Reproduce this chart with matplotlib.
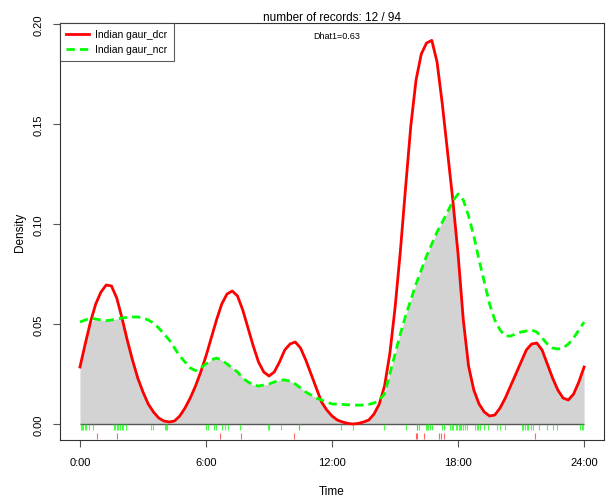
import numpy as np
import matplotlib
matplotlib.use("Agg")
import matplotlib.pyplot as plt

plt.rcParams['font.family'] = ['Liberation Sans', 'DejaVu Sans']

# time grid (hours), one reading every quarter hour
hours = np.arange(0, 24.01, 0.25)

# densities
dens_dcr = [0.0285, 0.040, 0.051, 0.060, 0.066, 0.0695, 0.069, 0.063,
            0.053, 0.042, 0.032, 0.023, 0.016, 0.010, 0.006, 0.003,
            0.0015, 0.001, 0.0015, 0.004, 0.008, 0.013, 0.019, 0.026,
            0.034, 0.043, 0.052, 0.060, 0.065, 0.0665, 0.064, 0.057,
            0.048, 0.039, 0.031, 0.026, 0.024, 0.026, 0.031, 0.037,
            0.040, 0.041, 0.038, 0.032, 0.025, 0.018, 0.011, 0.007,
            0.004, 0.002, 0.001, 0.0003, 0.000, 0.0003, 0.001, 0.002,
            0.005, 0.010, 0.019, 0.035, 0.058, 0.086, 0.118, 0.149,
            0.172, 0.185, 0.1905, 0.1918, 0.181, 0.160, 0.136, 0.112,
            0.085, 0.052, 0.029, 0.017, 0.010, 0.006, 0.004, 0.0045,
            0.008, 0.013, 0.019, 0.025, 0.031, 0.037, 0.040, 0.0405,
            0.037, 0.030, 0.023, 0.017, 0.013, 0.012, 0.015, 0.021,
            0.0285]

dens_ncr = [0.051, 0.052, 0.053, 0.0525, 0.052, 0.0517, 0.052, 0.0525,
            0.053, 0.0533, 0.0535, 0.0535, 0.053, 0.052, 0.0505, 0.048,
            0.045, 0.042, 0.038, 0.034, 0.031, 0.028, 0.0267, 0.028,
            0.030, 0.032, 0.033, 0.032, 0.030, 0.028, 0.026, 0.023,
            0.021, 0.0195, 0.019, 0.0195, 0.020, 0.021, 0.022, 0.022,
            0.0215, 0.020, 0.018, 0.016, 0.0145, 0.013, 0.012, 0.011,
            0.010, 0.010, 0.0098, 0.0096, 0.0095, 0.0094, 0.0095, 0.0098,
            0.0105, 0.012, 0.015, 0.025, 0.035, 0.045, 0.054, 0.062,
            0.070, 0.077, 0.084, 0.090, 0.096, 0.101, 0.106, 0.1115,
            0.115, 0.112, 0.104, 0.094, 0.082, 0.071, 0.060, 0.052,
            0.047, 0.044, 0.044, 0.045, 0.046, 0.0465, 0.047, 0.046,
            0.043, 0.040, 0.038, 0.0375, 0.038, 0.040, 0.043, 0.047,
            0.051]

# record times for the rugs
times_dcr = [0.81, 1.76, 6.67, 7.67, 10.2, 16.0, 16.05, 16.4, 17.1, 17.17, 17.35, 21.67]
times_ncr = [0.03, 0.1, 0.16, 0.22, 0.29, 0.44, 0.63, 1.62, 1.68, 1.75, 1.83, 1.9,
             1.98, 2.06, 2.19, 3.37, 3.46, 4.05, 4.1, 4.16, 6.0, 6.11, 6.38, 6.48,
             6.75, 6.9, 7.06, 7.62, 8.97, 8.98, 9.57, 10.41, 10.42, 12.44, 12.98,
             14.48, 15.5, 16.03, 16.06, 16.16, 16.46, 16.51, 16.59, 16.67, 16.76,
             17.22, 17.35, 17.62, 17.7, 17.78, 17.9, 17.97, 18.03, 18.1, 18.16,
             18.22, 18.33, 18.44, 18.81, 18.89, 18.97, 19.05, 19.24, 19.44, 19.87,
             20.0, 20.24, 21.03, 21.11, 21.19, 21.27, 21.35, 21.46, 21.59, 21.85,
             22.22, 22.5, 22.72, 23.81, 23.89, 23.97]

tick_pos = [0, 6, 12, 18, 24]
tick_lab = ["0:00", "6:00", "12:00", "18:00", "24:00"]

fig = plt.figure(figsize=(6.09, 5.02), dpi=100)
ax = fig.add_axes([0.0982, 0.1215, 0.894, 0.8307])

a = np.array(dens_dcr)
b = np.array(dens_ncr)
ax.fill_between(hours, 0, np.minimum(a, b), color='#D3D3D3', lw=0)
ax.hlines(0, 0, 24, color='#555555', lw=1)
ax.plot(hours, a, color='#FF0000', lw=2.0, solid_joinstyle='round',
        label='Indian gaur_dcr')
ax.plot(hours, b, color='#00FF00', lw=2.0, ls=(0, (3, 1.8)),
        dash_joinstyle='round', label='Indian gaur_ncr')

ax.vlines(times_ncr, -0.003, 0, color='#00FF00', lw=0.8, alpha=0.7)
ax.vlines(times_dcr, -0.0075, -0.0047, color='#FF0000', lw=0.8, alpha=0.6)

ax.set_xlim(-0.96, 24.96)
ax.set_ylim(-0.008, 0.2005)
ax.set_xticks(tick_pos)
ax.set_xticklabels(tick_lab)
ax.set_yticks([0, 0.05, 0.10, 0.15, 0.20])
ax.set_yticklabels(["0.00", "0.05", "0.10", "0.15", "0.20"], rotation=90, va='center')
ax.tick_params(axis='both', direction='out', length=5, width=0.8, color='#555555',
               labelsize=8, pad=7)
for s in ax.spines.values():
    s.set_color('#333333')
    s.set_linewidth(0.8)

ax.set_xlabel('Time', fontsize=8.5, labelpad=13)
ax.set_ylabel('Density', fontsize=8.5, labelpad=5)
ax.set_title('number of records: 12 / 94', fontsize=8.5, pad=2)
ax.text(12.2, 0.194, 'Dhat1=0.63', fontsize=6.5, ha='center', va='center')

leg = ax.legend(loc='upper left', bbox_to_anchor=(0, 1), borderaxespad=0,
                fontsize=7.5, fancybox=False, handlelength=2.2, handletextpad=0.6,
                borderpad=0.6, labelspacing=0.5)
leg.get_frame().set_edgecolor('#333333')
leg.get_frame().set_linewidth(0.8)

fig.savefig('out.png', dpi=100)
